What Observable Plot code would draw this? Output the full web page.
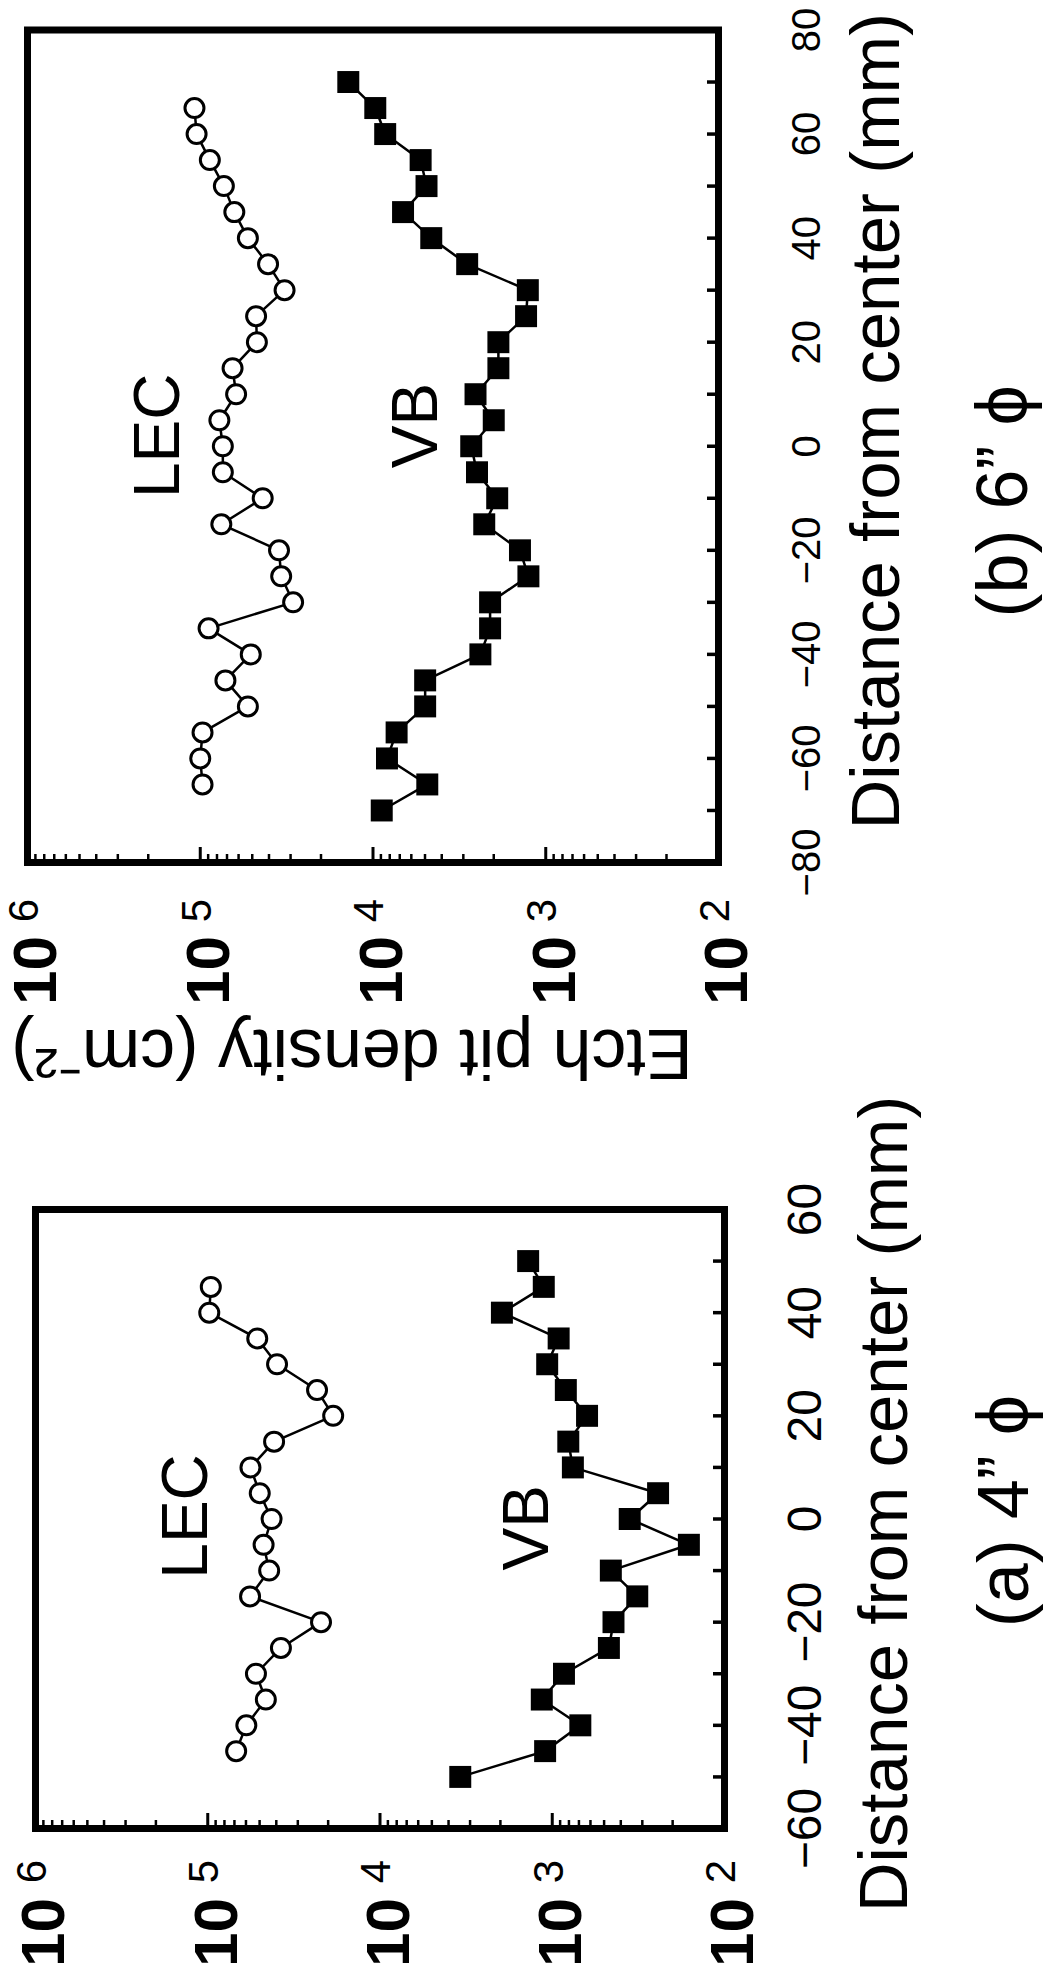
<!DOCTYPE html>
<html>
<head>
<meta charset="utf-8">
<script src="https://cdn.jsdelivr.net/npm/d3@7"></script>
<script src="https://cdn.jsdelivr.net/npm/@observablehq/plot@0.6"></script>
<style>
  html, body { margin: 0; padding: 0; background: white; }
  #fig { position: relative; width: 1047px; height: 1972px; background: white; overflow: hidden; }
</style>
</head>
<body>
<div id="fig"></div>
<script>
// ---------- data ----------
// Panel (b) 6" phi : distance from center (mm)
const distB_LEC = [65,60,55,50,45,40,35,30,25,20,15,10,5,0,-5,-10,-15,-20,-25,-30,-35,-40,-45,-50,-55,-60,-65];
const epdB_LEC  = [1.08e5,1.05e5,8.8e4,7.3e4,6.35e4,5.3e4,4.05e4,3.25e4,4.75e4,4.7e4,6.5e4,6.2e4,7.75e4,7.4e4,7.4e4,4.35e4,7.55e4,3.5e4,3.4e4,2.9e4,8.95e4,5.1e4,7.15e4,5.3e4,9.7e4,1.0e5,9.7e4];
const distB_VB  = [70,65,60,55,50,45,40,35,30,25,20,15,10,5,0,-5,-10,-15,-20,-25,-30,-35,-40,-45,-50,-55,-60,-65,-70];
const epdB_VB   = [1.39e4,9.7e3,8.5e3,5.3e3,4.9e3,6.7e3,4.6e3,2.85e3,1.27e3,1.3e3,1.88e3,1.88e3,2.55e3,2.0e3,2.7e3,2.5e3,1.91e3,2.27e3,1.41e3,1.26e3,2.1e3,2.1e3,2.39e3,4.99e3,4.99e3,7.3e3,8.3e3,4.85e3,8.9e3];
// Panel (a) 4" phi
const distA_LEC = [45,40,35,30,25,20,15,10,5,0,-5,-10,-15,-20,-25,-30,-35,-40,-45];
const epdA_LEC  = [9.6e4,9.8e4,5.16e4,3.96e4,2.32e4,1.87e4,4.12e4,5.65e4,4.99e4,4.26e4,4.74e4,4.4e4,5.68e4,2.2e4,3.76e4,5.25e4,4.6e4,5.97e4,6.84e4];
const distA_VB  = [50,45,40,35,30,25,20,15,10,5,0,-5,-10,-15,-20,-25,-30,-35,-40,-45,-50];
const epdA_VB   = [1.38e3,1.12e3,1.96e3,918,1.07e3,834,628,807,759,243,355,161,457,321,441,469,855,1.15e3,687,1.1e3,3.42e3];

// tick values and labels
const decades   = [1e6, 1e5, 1e4, 1e3, 1e2];
const decadeExp = ["6", "5", "4", "3", "2"];
const distLabelsB = [-80,-60,-40,-20,0,20,40,60,80];
const distLabelsA = [-60,-40,-20,0,20,40,60];
const distTicksB  = [-70,-60,-50,-40,-30,-20,-10,0,10,20,30,40,50,60,70];
const distTicksA  = [-50,-40,-30,-20,-10,0,10,20,30,40,50];
const minorMult   = [2,3,4,5,6,7,8,9];

// text
const xTitle = "Distance from center (mm)";
const yTitle = "Etch pit density (cm\u207B\u00B2)";
const captionA = "(a) 4\u201D \u03D5";
const captionB = "(b) 6\u201D \u03D5";
// series-label anchors (density, distance)
const labelB = [{t: "LEC", x: 1.75e5, y: 2}, {t: "VB", x: 5.6e3, y: 4}];
const labelA = [{t: "LEC", x: 1.33e5, y: 0.5}, {t: "VB", x: 1.39e3, y: -1.7}];

// ---------- helpers ----------
const FONT = "'Liberation Sans', Arial, Helvetica, sans-serif";
const rows = (ds, vs) => ds.map((d, i) => ({d, v: vs[i]}));
const minors = decades.slice(1).flatMap(b => minorMult.map(m => b * m));
const fmtDist = d => d < 0 ? "\u2212" + Math.abs(d) : String(d);
const TXT = {textAnchor: "middle", lineAnchor: "middle", fontFamily: FONT, fill: "black"};

function panel(cfg) {
  const fw = 1047 - cfg.ml - cfg.mr;
  const fh = cfg.h - cfg.mt - cfg.mb;
  const lec = rows(cfg.dLEC, cfg.vLEC);
  const vb = rows(cfg.dVB, cfg.vVB);
  const marks = [
    Plot.ruleX(minors, {x: d => d, insetTop: fh - 8, strokeWidth: 2.5}),
    Plot.ruleX(decades, {x: d => d, insetTop: fh - 15, strokeWidth: 3}),
    Plot.ruleY(cfg.ticks, {y: d => d, insetLeft: fw - 11, strokeWidth: 3.5}),
    Plot.frame({strokeWidth: 7}),
    Plot.line(vb, {x: "v", y: "d", strokeWidth: 2.5}),
    Plot.dot(vb, {x: "v", y: "d", symbol: "square", r: 12.4, fill: "black", stroke: "none"}),
    Plot.line(lec, {x: "v", y: "d", strokeWidth: 2.5}),
    Plot.dot(lec, {x: "v", y: "d", symbol: "circle", r: 9.5, fill: "white", stroke: "black", strokeWidth: 3}),
    Plot.text(cfg.labels, {...TXT, x: "x", y: "y", text: "t", rotate: -90, fontSize: 64}),
    // distance tick labels
    Plot.text(cfg.distLabels, {...TXT, y: d => d, text: fmtDist, frameAnchor: "right", dx: cfg.distDx, rotate: -90, fontSize: cfg.distFont}),
    // density tick labels: 10 with exponent
    Plot.text(decades, {...TXT, x: d => d, text: () => "10", frameAnchor: "bottom", dx: 9, dy: cfg.baseDy, rotate: -90, fontSize: 62, fontWeight: "bold"}),
    Plot.text(decades, {...TXT, x: d => d, text: (d, i) => decadeExp[i], frameAnchor: "bottom", dx: -3, dy: cfg.expDy, rotate: -90, fontSize: 42}),
    // axis title and caption
    Plot.text([xTitle], {...TXT, frameAnchor: "right", dx: cfg.titleDx, dy: cfg.titleDy, rotate: -90, fontSize: 69}),
    Plot.text([cfg.caption], {...TXT, frameAnchor: "right", dx: cfg.capDx, dy: cfg.capDy, rotate: -90, fontSize: 72})
  ];
  if (cfg.extra) marks.push(...cfg.extra);
  const svg = Plot.plot({
    width: 1047, height: cfg.h,
    marginTop: cfg.mt, marginBottom: cfg.mb, marginLeft: cfg.ml, marginRight: cfg.mr,
    x: {type: "log", domain: [1e6, 1e2], axis: null},
    y: {domain: cfg.ydom, axis: null},
    style: {fontFamily: FONT, background: "transparent", overflow: "visible"},
    marks
  });
  svg.style.position = "absolute";
  svg.style.left = "0px";
  svg.style.top = cfg.top + "px";
  return svg;
}

const fig = document.getElementById("fig");
fig.appendChild(panel({
  top: 0, h: 1100, mt: 29.5, mb: 238, ml: 27, mr: 329, ydom: [-80, 80],
  dLEC: distB_LEC, vLEC: epdB_LEC, dVB: distB_VB, vVB: epdB_VB,
  ticks: distTicksB, distLabels: distLabelsB, distDx: 89, distFont: 40,
  labels: labelB, baseDy: 108, expDy: 48,
  titleDx: 158, titleDy: -25, caption: captionB, capDx: 285, capDy: 55,
  extra: [
    Plot.text([yTitle], {...TXT, frameAnchor: "bottom", dx: -21, dy: 190, rotate: 180, fontSize: 70})
  ]
}));
fig.appendChild(panel({
  top: 1100, h: 872, mt: 109, mb: 144, ml: 35, mr: 323, ydom: [-60, 60],
  dLEC: distA_LEC, vLEC: epdA_LEC, dVB: distA_VB, vVB: epdA_VB,
  ticks: distTicksA, distLabels: distLabelsA, distDx: 81, distFont: 48,
  labels: labelA, baseDy: 104, expDy: 43,
  titleDx: 160, titleDy: -15, caption: captionA, capDx: 280, capDy: -8
}));
</script>
</body>
</html>
